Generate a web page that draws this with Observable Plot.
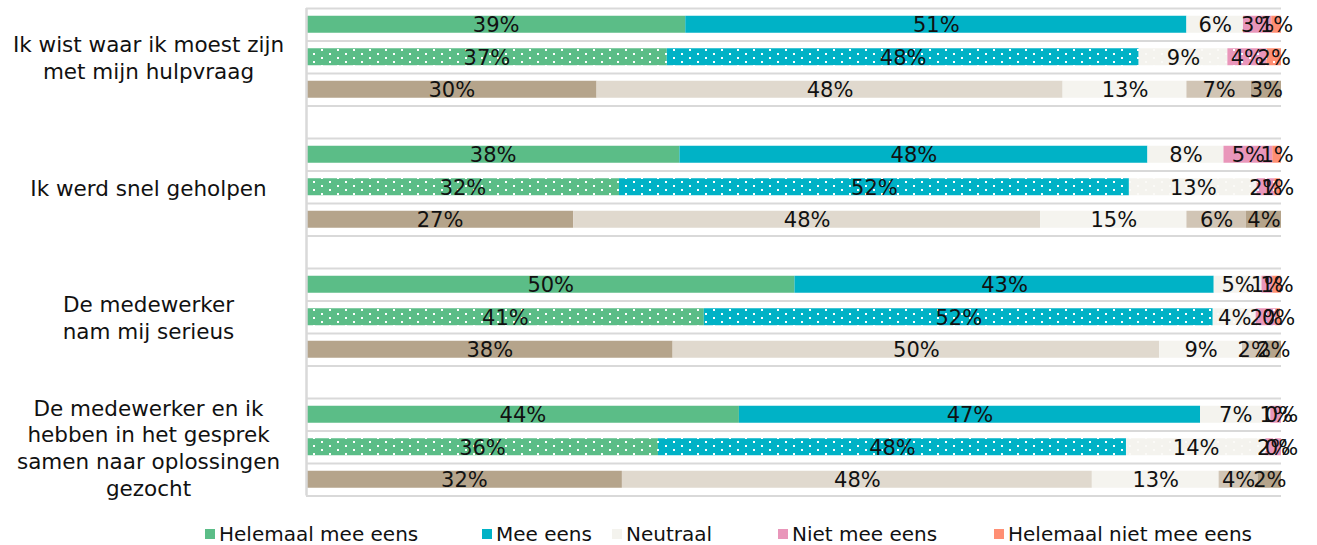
<!DOCTYPE html>
<html>
<head>
<meta charset="utf-8">
<script src="https://cdn.jsdelivr.net/npm/d3@7"></script>
<script src="https://cdn.jsdelivr.net/npm/@observablehq/plot@0.6"></script>
<style>
  body { margin: 0; background: #fff; font-family: "DejaVu Sans", Verdana, sans-serif; overflow: hidden; }
  #wrap { position: relative; width: 1317px; height: 545px; }
  #legend { position: absolute; left: 0; top: 523px; width: 1317px; height: 22px; font-size: 20px; line-height: 22px; color: #111; }
  .item { position: absolute; top: 0; display: flex; align-items: center; height: 22px; white-space: nowrap; }
  .sw { width: 10px; height: 10px; margin-right: 4px; display: inline-block; }
</style>
</head>
<body>
<div id="wrap"><div id="chart"></div><div id="legend"></div></div>
<script>
const statements = [
  "Ik wist waar ik moest zijn\nmet mijn hulpvraag",
  "Ik werd snel geholpen",
  "De medewerker\nnam mij serieus",
  "De medewerker en ik\nhebben in het gesprek\nsamen naar oplossingen\ngezocht"
];
const categories = ["Helemaal mee eens", "Mee eens", "Neutraal", "Niet mee eens", "Helemaal niet mee eens"];

// Row 1 (solid), row 2 (dotted), row 3 (brown) per statement, in percent
const seriesSolid = [
  [38.9, 51.4, 5.8, 2.9, 1.0],
  [38.3, 48.0, 7.8, 5.0, 0.9],
  [50.1, 43.0, 4.9, 1.1, 0.9],
  [44.4, 47.3, 7.2, 1.1, 0.0]
];
const seriesDotted = [
  [37.0, 48.4, 9.1, 4.0, 1.5],
  [32.1, 52.3, 13.1, 1.8, 0.6],
  [40.8, 52.2, 4.4, 2.1, 0.4],
  [36.1, 48.0, 14.3, 1.6, 0.0]
];
const seriesBrown = [
  [29.8, 47.8, 12.7, 6.6, 3.1],
  [27.4, 47.9, 15.0, 6.1, 3.6],
  [37.6, 49.9, 8.5, 2.4, 1.6],
  [32.4, 48.2, 13.0, 4.0, 2.4]
];

const colorsSolid = ["#5bbd87", "#00b2c6", "#f4f3ee", "#e996ba", "#ff8f74"];
const colorsBrown = ["#b5a48b", "#e0d9ce", "#f5f4ef", "#d1c5b5", "#b5a48b"];

const seriesList = [seriesSolid, seriesDotted, seriesBrown];
const data = [];
statements.forEach((s, g) => {
  seriesList.forEach((ser, r) => {
    categories.forEach((c, ci) => {
      data.push({g, r, c, pos: g * 4 + r, key: r + "-" + ci, value: ser[g][ci]});
    });
  });
});

const keys = [], fills = [];
seriesList.forEach((ser, r) => categories.forEach((c, ci) => {
  keys.push(r + "-" + ci);
  fills.push(r === 0 ? colorsSolid[ci] : r === 1 ? `url(#dot${ci})` : colorsBrown[ci]);
}));

const svg = Plot.plot({
  width: 1317,
  height: 510,
  marginLeft: 306,
  marginRight: 36,
  marginTop: 8,
  marginBottom: 14.5,
  style: {fontFamily: "DejaVu Sans, Verdana, sans-serif", fontSize: "21px", color: "#111"},
  x: {domain: [0, 100], axis: null},
  y: {domain: [0, 15], reverse: true, axis: null},
  color: {type: "ordinal", domain: keys, range: fills},
  marks: [
    Plot.ruleY(d3.range(16), {x1: 0, x2: 100, stroke: "#d9d9d9", strokeWidth: 2}),
    Plot.rectX(data, Plot.stackX({
      x: "value", y1: "pos", y2: d => d.pos + 1, fill: "key",
      insetTop: 7.75, insetBottom: 7.75
    })),
    Plot.ruleX([0], {y1: 0, y2: 15, stroke: "#d9d9d9", strokeWidth: 2.5}),
    Plot.text(data, Plot.stackX({
      x: "value", y: d => d.pos + 0.5,
      text: d => Math.round(d.value) + "%",
      fill: "#111", fontSize: 21, dy: 1
    })),
    Plot.text(statements, {
      x: 0, y: (d, i) => i * 4 + 1.5, text: d => d,
      dx: -158, textAnchor: "middle", lineHeight: 1.25, fontSize: 21.5, fill: "#111"
    })
  ]
});

// dotted patterns for the second row of each statement
const ns = "http://www.w3.org/2000/svg";
const defs = document.createElementNS(ns, "defs");
const dotBase = ["#5bbd87", "#00b2c6", "#f4f3ee", "#e996ba", "#ff8f74"];
const dotColor = ["#ffffff", "#ffffff", "#fbfaf7", "#ffffff", "#ffffff"];
dotBase.forEach((col, i) => {
  const p = document.createElementNS(ns, "pattern");
  p.setAttribute("id", "dot" + i);
  p.setAttribute("width", 16);
  p.setAttribute("height", 8);
  p.setAttribute("patternUnits", "userSpaceOnUse");
  const bg = document.createElementNS(ns, "rect");
  bg.setAttribute("width", 16); bg.setAttribute("height", 8); bg.setAttribute("fill", col);
  p.appendChild(bg);
  [[1, 1], [9, 5]].forEach(([x, y]) => {
    const r = document.createElementNS(ns, "rect");
    r.setAttribute("x", x); r.setAttribute("y", y);
    r.setAttribute("width", 2); r.setAttribute("height", 2);
    r.setAttribute("fill", dotColor[i]);
    p.appendChild(r);
  });
  defs.appendChild(p);
});
svg.insertBefore(defs, svg.firstChild);
document.getElementById("chart").appendChild(svg);

// legend
const legendLeft = [205, 482, 612, 778, 994];
const legend = document.getElementById("legend");
categories.forEach((c, i) => {
  const it = document.createElement("div");
  it.className = "item";
  it.style.left = legendLeft[i] + "px";
  it.innerHTML = `<span class="sw" style="background:${colorsSolid[i]}"></span><span>${c}</span>`;
  legend.appendChild(it);
});
</script>
</body>
</html>
